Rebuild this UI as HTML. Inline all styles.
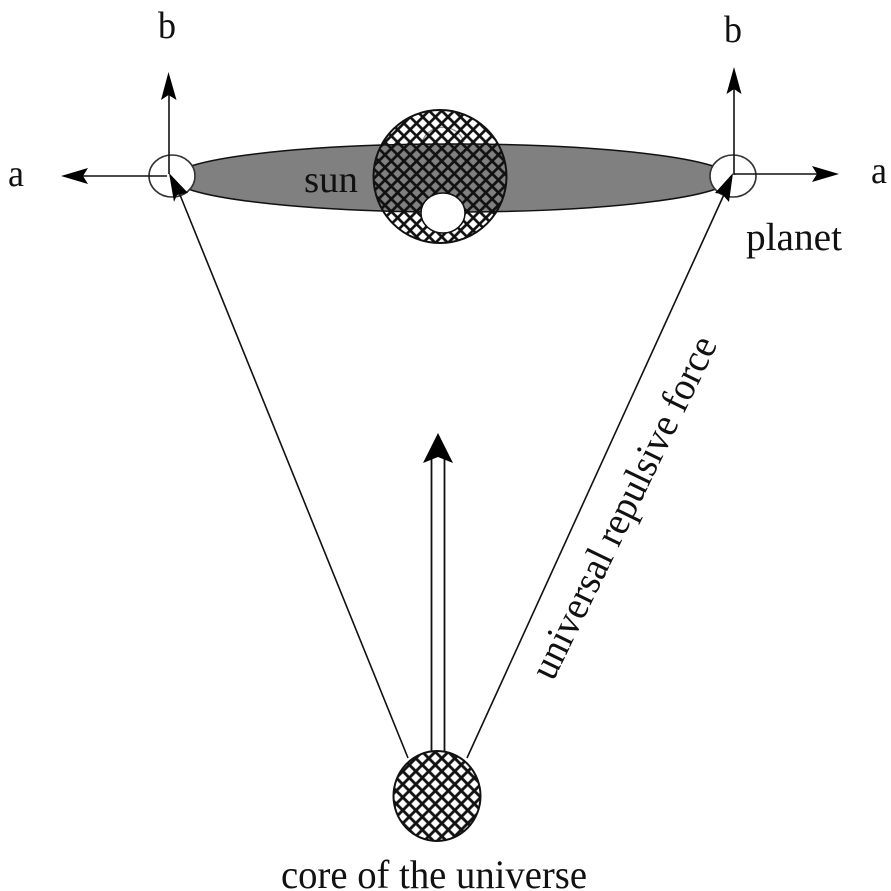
<!DOCTYPE html>
<html>
<head>
<meta charset="utf-8">
<style>
html,body{margin:0;padding:0;background:#fff;}
svg{display:block;}
text{font-family:"Liberation Serif",serif;fill:#111;}
</style>
</head>
<body>
<svg width="891" height="891" viewBox="0 0 891 891" xmlns="http://www.w3.org/2000/svg">
<defs>
<pattern id="h" width="12.6" height="12.6" patternUnits="userSpaceOnUse" patternTransform="translate(448 117)">
<path d="M-2 -2L14.600 14.600M14.600 -2L-2 14.600M-3 3L3 -3M9.600 15.600L15.600 9.600M-3 9.600L3 15.600M9.600 -3L15.600 3" stroke="#111" stroke-width="2.700" fill="none"/>
</pattern>
<pattern id="c" width="13" height="13" patternUnits="userSpaceOnUse" patternTransform="translate(441.800 758.300)">
<path d="M-2 -2L15 15M15 -2L-2 15M-3 3L3 -3M10 16L16 10M-3 10L3 16M10 -3L16 3" stroke="#111" stroke-width="2.900" fill="none"/>
</pattern>
</defs>
<rect width="891" height="891" fill="#fff"/>

<!-- disc -->
<ellipse cx="452" cy="178" rx="279" ry="34" fill="#808080" stroke="#111" stroke-width="1.500"/>

<!-- sun -->
<path d="M422 142A22 21 0 0 1 464 142" fill="none" stroke="#888" stroke-width="1.200"/>
<circle cx="440" cy="176.500" r="66.500" fill="url(#h)"/>
<circle cx="440" cy="176.500" r="66.500" fill="none" stroke="#111" stroke-width="2"/>
<ellipse cx="443" cy="213" rx="22" ry="20" fill="#fff" stroke="#111" stroke-width="1.500"/>

<!-- planets -->
<ellipse cx="172" cy="176" rx="23" ry="21" fill="#fff" stroke="#333" stroke-width="1.600"/>
<ellipse cx="733" cy="176" rx="23" ry="21" fill="#fff" stroke="#333" stroke-width="1.600"/>

<!-- left axes -->
<path d="M169 174V90" stroke="#111" stroke-width="1.600" fill="none"/>
<path d="M168.500 72L176.500 100L168.500 95L161 100Z" fill="#000"/>
<path d="M167 176H78" stroke="#111" stroke-width="1.600" fill="none"/>
<path d="M61 176L88 168L83 176L88 184Z" fill="#000"/>

<!-- right axes -->
<path d="M734 175V85" stroke="#111" stroke-width="1.600" fill="none"/>
<path d="M734 67L741.500 94L734 89L726.500 94Z" fill="#000"/>
<path d="M734 174H822" stroke="#111" stroke-width="1.600" fill="none"/>
<path d="M839 174L812 166L817 174L812 182Z" fill="#000"/>

<!-- long arrows -->
<path d="M408 758L178 190" stroke="#111" stroke-width="1.600" fill="none"/>
<path d="M169 173L188 193L177 195L174 202Z" fill="#000"/>
<path d="M467 758L727 188" stroke="#111" stroke-width="1.600" fill="none"/>
<path d="M733 173L729 202L722 194L715 193Z" fill="#000"/>

<!-- double arrow -->
<path d="M431.500 752V458M444.500 752V458" stroke="#111" stroke-width="1.800" fill="none"/>
<path d="M438 433L453 463L438 457L423 463Z" fill="#000"/>

<!-- core -->
<ellipse cx="437" cy="796" rx="43.500" ry="45" fill="url(#c)"/>
<ellipse cx="437" cy="796" rx="43.500" ry="45" fill="none" stroke="#111" stroke-width="2"/>

<!-- labels -->
<text x="158" y="38" font-size="38" textLength="18" lengthAdjust="spacingAndGlyphs">b</text>
<text x="724" y="42" font-size="38" textLength="18" lengthAdjust="spacingAndGlyphs">b</text>
<text x="8" y="186" font-size="38" textLength="16" lengthAdjust="spacingAndGlyphs">a</text>
<text x="871" y="183" font-size="38" textLength="16" lengthAdjust="spacingAndGlyphs">a</text>
<text x="304" y="192" font-size="38" textLength="54" lengthAdjust="spacingAndGlyphs">sun</text>
<text x="746" y="250" font-size="39" textLength="96" lengthAdjust="spacingAndGlyphs">planet</text>
<text x="281" y="888" font-size="40" textLength="306" lengthAdjust="spacingAndGlyphs">core of the universe</text>
<text transform="translate(553 682) rotate(-64)" font-size="40" textLength="376" lengthAdjust="spacingAndGlyphs">universal repulsive force</text>
</svg>
</body>
</html>
